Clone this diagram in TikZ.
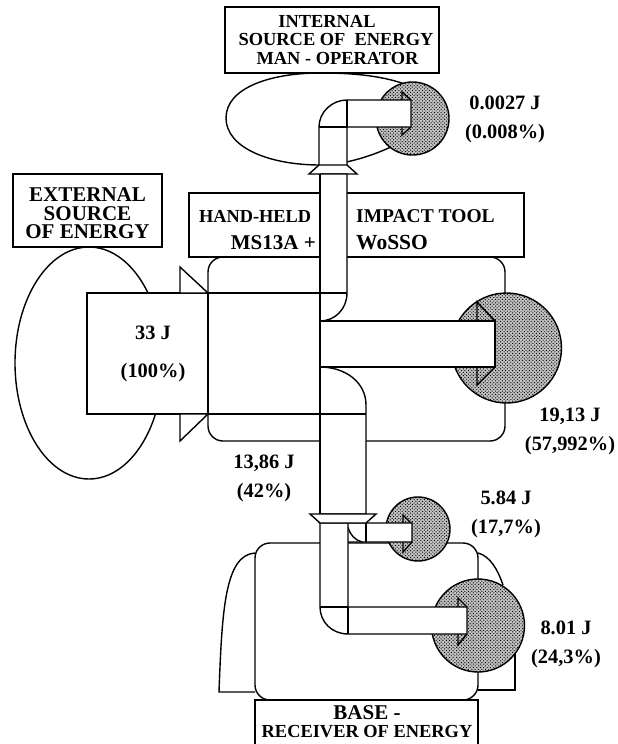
\documentclass[tikz,border=0pt]{standalone}
\usepackage{fontspec}
\setmainfont{Liberation Serif}
\usetikzlibrary{patterns.meta}
\definecolor{stipple}{RGB}{195, 195, 195}
\begin{document}
\begin{tikzpicture}[
        x=1pt, y=-1pt,
        line/.style={draw=black, line width=1.4pt, line join=miter},
        pipe/.style={line, fill=white},
        lossdisc/.style={line, preaction={fill=stipple}, pattern={Dots[distance=2.4pt, radius=0.7pt, angle=45]}, pattern color=black},
        titlebox/.style={line, fill=white, align=center, font=\bfseries\fontsize{18.4}{18.5}\selectfont, inner sep=0pt},
        value/.style={align=center, inner sep=0pt, font=\bfseries\fontsize{20.4}{29}\selectfont}
    ]
        \useasboundingbox (0,0) rectangle (618,744);
        % sources and receiver outlines
        \draw[line] (89,363) ellipse [x radius=74, y radius=116];
        \draw[line] (226,118) .. controls (226,88) and (270,73) .. (320,73) .. controls (355,73) and (385,76) .. (410,86) -- (410,130) -- (395,145) .. controls (375,155) and (345,165) .. (320,165) .. controls (270,165) and (226,148) .. (226,118);
        \draw[line] (255,553) .. controls (225,555) and (222,610) .. (219,692) -- (255,692);
        \draw[line] (478,553) .. controls (490,556) and (498,570) .. (503,585);
        \draw[line] (515,650) -- (515,690) -- (478,690);
        \draw[line, rounded corners=15pt] (255,700) rectangle (478,543);
        % mid body
        \draw[pipe] (87,293) rectangle (208,414);
        \draw[pipe] (180,293) -- (180,267) -- (208,293) -- cycle;
        \draw[pipe] (180,414) -- (180,441) -- (208,414) -- cycle;
        \draw[line, rounded corners=15pt] (208,257) rectangle (505,441);
        % boxes
        \node[titlebox, minimum width=214pt, minimum height=66pt] (internal) at (332,40) {INTERNAL\hspace*{10pt}\\\hspace*{8pt}SOURCE OF\ \ ENERGY\\\hspace*{11pt}MAN - OPERATOR};
        \draw[pipe] (13,174) rectangle (162,247);
        \draw[pipe] (189,193) rectangle (524,257);
        \draw[pipe] (255,700) rectangle (478,750);
        % discs
        \draw[lossdisc] (412.5,118.5) circle [radius=36.5];
        \draw[lossdisc] (506.5,348) circle [radius=55];
        \draw[lossdisc] (418,529) circle [radius=32];
        \draw[lossdisc] (478,625.5) circle [radius=46.5];
        % flares on the discs
        \draw[line] (402,100) -- (402,92) -- (411,100);
        \draw[line] (402,127) -- (402,135) -- (411,127);
        \draw[line] (477,321) -- (477,302) -- (495,321);
        \draw[line] (477,367) -- (477,385) -- (495,367);
        \draw[line] (403,524) -- (403,515) -- (412,524);
        \draw[line] (403,542) -- (403,552) -- (412,542);
        \draw[line] (458,607) -- (458,598) -- (467,607);
        \draw[line] (458,634) -- (458,645) -- (467,634);
        % energy pipes
        \draw[pipe] (319,174) -- (319,127) .. controls (319,112) and (332,100) .. (347,100) -- (411,100) -- (411,127) -- (347,127) -- (347,174) -- cycle;
        \draw[line] (319,127) -- (347,127);
        \draw[line] (347,100) -- (347,127);
        \draw[pipe] (319,165) -- (347,165) -- (357,174) -- (309,174) -- cycle;
        \draw[pipe] (320,174) -- (347,174) -- (347,293) .. controls (347,309) and (335,321) .. (320,321);
        \draw[line] (208,293) -- (347,293);
        \draw[pipe] (320,321) rectangle (495,367);
        \draw[pipe] (320,367) .. controls (345,367) and (366,382) .. (366,405) -- (366,514) -- (320,514) -- cycle;
        \draw[line] (208,414) -- (366,414);
        \draw[pipe] (320,523) -- (412,523) -- (412,542) -- (348,542) -- cycle;
        \draw[line] (366,523) -- (366,542);
        \draw[line] (348,527) .. controls (350,535) and (355,540) .. (362,542);
        \draw[pipe] (320,523) -- (348,523) -- (348,607) -- (467,607) -- (467,634) -- (348,634) .. controls (332,634) and (320,622) .. (320,607) -- cycle;
        \draw[line] (348,607) -- (348,634);
        \draw[line] (320,607) -- (348,607);
        \draw[pipe] (310,514) -- (376,514) -- (366,523) -- (320,523) -- cycle;
        \draw[line] (320,174) -- (320,514);
        % labels
        \node[align=center, inner sep=0pt, font=\bfseries\fontsize{21}{18.5}\selectfont] (external) at (87.5,213.5) {EXTERNAL\\SOURCE\\OF ENERGY};
        \node[font=\bfseries\fontsize{18.3}{18}\selectfont, anchor=base west, inner sep=0pt] (handheld) at (199,222) {HAND-HELD};
        \node[font=\bfseries\fontsize{21}{21}\selectfont, anchor=base east, inner sep=0pt] (model) at (316,249) {MS13A +};
        \node[font=\bfseries\fontsize{19.5}{18}\selectfont, anchor=base west, inner sep=0pt] (impact) at (356,222) {IMPACT TOOL};
        \node[font=\bfseries\fontsize{21.5}{21}\selectfont, anchor=base west, inner sep=0pt] (wosso) at (356,249) {WoSSO};
        \node[titlebox, draw=none, fill=none] (base) at (367,721.5) {\fontsize{21}{19}\selectfont BASE -\\\fontsize{18.4}{19}\selectfont RECEIVER OF ENERGY};
        \node[value] (topval) at (505,119.5) {0.0027 J\\(0.008\%)};
        \node[value] (inval) at (153,354) {33 J\\[9pt](100\%)};
        \node[value] (outval) at (570,431) {19,13 J\\(57,992\%)};
        \node[value] (pipeval) at (264,478) {13,86 J\\(42\%)};
        \node[value] (smallval) at (506,514.5) {5.84 J\\(17,7\%)};
        \node[value] (bigval) at (566,644) {8.01 J\\(24,3\%)};
    \end{tikzpicture}
\end{document}
